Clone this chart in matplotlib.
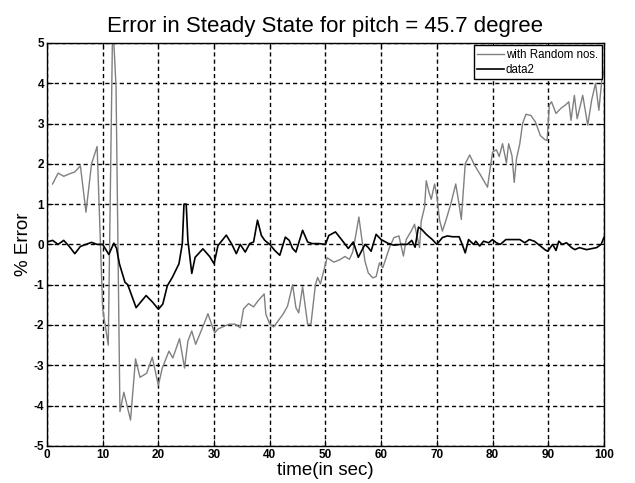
import matplotlib
matplotlib.use("Agg")
import matplotlib.pyplot as plt

plt.rcParams['font.family'] = ['Liberation Sans', 'DejaVu Sans']
plt.rcParams['axes.unicode_minus'] = False

# Error with random numbers added (time in sec, % error)
t_rand = [1, 2, 3, 4, 5, 6, 7, 8, 9, 10, 11, 11.8, 12.4, 13.1, 13.8, 15, 15.9, 16.7,
          17.9, 18.9, 20, 20.7, 21.9, 22.6, 23.8, 24.7, 25.3, 26, 26.7, 28.4, 28.9,
          30.1, 30.7, 32.7, 33.8, 34.7, 35.3, 36.2, 37.1, 37.9, 39, 39.3, 40, 40.7,
          42.4, 43.2, 44.1, 44.7, 45.2, 45.9, 46.8, 47.4, 48.2, 48.6, 49.1, 49.7,
          50.3, 51.5, 52.6, 53.5, 54.3, 54.9, 55.5, 56, 56.5, 57.1, 57.7, 58.5, 59.1,
          59.7, 60.3, 60.9, 61.5, 62.3, 63.2, 64, 64.5, 65.4, 66, 66.5, 66.9, 67.2,
          67.8, 68.1, 68.6, 69, 69.6, 70, 70.5, 71, 71.6, 72.5, 73.4, 73.9, 74.4,
          75.1, 75.9, 76.8, 77.9, 79.1, 80, 80.7, 81.2, 81.8, 82.5, 82.9, 83.5, 83.9,
          84.3, 84.9, 85.4, 86, 86.9, 87.7, 88.6, 89.4, 89.8, 90.2, 90.6, 91.4, 92.3,
          93.1, 93.7, 94.1, 94.7, 95.2, 96.2, 97.1, 97.8, 98.5, 99.1, 99.7, 100]
err_rand = [1.5, 1.77, 1.69, 1.75, 1.8, 1.95, 0.8, 2.0, 2.43, -1.6, -2.5, 5.6, 3.9,
            -4.15, -3.67, -4.36, -2.84, -3.3, -3.2, -2.8, -3.5, -3.07, -2.65, -2.82,
            -2.34, -3.07, -2.4, -2.15, -2.48, -1.9, -1.72, -2.2, -2.1, -1.98, -1.98,
            -2.07, -1.6, -1.47, -1.55, -1.4, -1.23, -1.73, -1.98, -2.05, -1.73, -1.53,
            -1.0, -1.57, -1.7, -1.05, -1.98, -1.98, -1.0, -0.82, -0.98, -0.65, -0.33,
            -0.44, -0.38, -0.3, -0.37, -0.19, 0.27, 0.68, 0.17, -0.42, -0.71, -0.83,
            -0.8, -0.46, -0.58, -0.33, -0.08, 0.17, 0.21, -0.29, 0.12, 0.33, 0.5, 0.17,
            -0.08, 0.58, 0.92, 1.58, 1.29, 1.12, 1.5, 1.21, 0.6, 0.33, 0.58, 1.0, 1.5,
            1.08, 0.62, 2.0, 2.22, 1.96, 1.71, 1.42, 2.29, 2.35, 2.18, 2.5, 2.02, 2.5,
            2.2, 1.54, 2.12, 2.5, 3.0, 3.23, 3.2, 3.04, 2.7, 2.6, 2.58, 3.46, 3.54,
            3.25, 3.38, 3.46, 3.54, 3.08, 3.7, 3.12, 3.7, 2.96, 3.58, 4.0, 3.33, 4.17,
            4.3]

# Error without random numbers (data2)
t_data2 = [0, 1, 2, 3, 4, 5, 6, 7, 8, 9, 10, 11.1, 12, 12.5, 13, 14, 14.5, 15, 16,
           17.8, 19, 20, 20.8, 21.6, 22.5, 23.7, 24.3, 24.6, 25, 25.3, 26, 26.6, 28,
           29.2, 30, 30.7, 32.2, 33.2, 34, 34.7, 35.6, 36.4, 37.1, 37.8, 38.5, 39.1,
           40, 40.9, 41.8, 42.8, 43.5, 44.1, 44.7, 45.9, 46.8, 47.6, 48.8, 50, 50.6,
           51.8, 53, 54.1, 55, 55.9, 57.1, 57.7, 58.2, 59.1, 60, 61.2, 62.3, 63.5,
           64.7, 65.5, 66.1, 66.7, 67.3, 68.1, 69.2, 70, 71, 71.9, 72.8, 74, 74.5,
           75.1, 75.7, 76.6, 77, 77.7, 78.4, 79.3, 80, 80.7, 81.4, 82.4, 83.5, 84.9,
           85.8, 86.6, 87.5, 88.6, 89.4, 89.9, 90.8, 91.4, 91.9, 92.5, 93.3, 94.2,
           94.8, 95.6, 96.9, 98.7, 99.5, 100]
err_data2 = [0.06, 0.1, 0.0, 0.1, -0.05, -0.23, -0.05, 0.0, 0.05, 0.0, 0.0, -0.25,
             0.03, -0.1, -0.48, -0.94, -1.0, -1.19, -1.57, -1.27, -1.44, -1.61, -1.48,
             -1.03, -0.82, -0.48, 0.02, 1.0, 1.0, 0.1, -0.72, -0.32, -0.11, -0.3,
             -0.48, -0.03, 0.23, 0.0, -0.23, 0.0, -0.19, 0.02, 0.06, 0.6, 0.22, 0.1,
             0.0, -0.15, -0.27, 0.18, 0.1, -0.1, -0.19, 0.35, 0.06, 0.02, 0.02, 0.0,
             0.22, 0.31, 0.1, -0.1, 0.06, -0.32, 0.0, -0.08, -0.17, 0.25, 0.12, 0.03,
             -0.02, 0.0, 0.0, 0.1, -0.07, 0.43, 0.37, 0.25, 0.12, 0.0, 0.17, 0.21,
             0.19, 0.19, 0.02, -0.21, 0.12, 0.0, 0.08, -0.04, 0.08, 0.04, 0.12, 0.04,
             0.0, 0.12, 0.12, 0.12, 0.04, 0.12, 0.08, -0.04, -0.13, -0.17, 0.0, -0.15,
             0.08, 0.0, 0.04, -0.08, -0.13, -0.08, -0.13, -0.08, 0.0, 0.17]

x_ticks = list(range(0, 101, 10))
y_ticks = list(range(-5, 6))

fig = plt.figure(figsize=(6.35, 4.83), dpi=100)
ax = fig.add_axes([0.074, 0.077, 0.877, 0.834])

ax.plot(t_rand, err_rand, color='#808080', lw=1.0, label='with Random nos.')
ax.plot(t_data2, err_data2, color='black', lw=1.2, label='data2')

ax.set_xlim(0, 100)
ax.set_ylim(-5, 5)
ax.set_xticks(x_ticks)
ax.set_yticks(y_ticks)
ax.tick_params(direction='in', length=4, labelsize=8.5, top=True, right=True, pad=2)
for lab in ax.get_xticklabels() + ax.get_yticklabels():
    lab.set_fontweight('bold')
ax.grid(True, color='black', linestyle=(0, (3, 2.2)), linewidth=1.0)
for sp in ax.spines.values():
    sp.set_linewidth(1.0)

ax.set_title('Error in Steady State for pitch = 45.7 degree', fontsize=16, pad=8)
ax.set_xlabel('time(in sec)', fontsize=13.5, labelpad=1)
ax.set_ylabel('% Error', fontsize=13.5, labelpad=1)

leg = ax.legend(loc='upper right', fontsize=8.3, frameon=True, fancybox=False,
                edgecolor='black', framealpha=1, handlelength=2.3,
                borderaxespad=0.2, borderpad=0.3, labelspacing=0.25, handletextpad=0.2)
leg.get_frame().set_linewidth(1.0)

fig.savefig('out.png', dpi=100)
